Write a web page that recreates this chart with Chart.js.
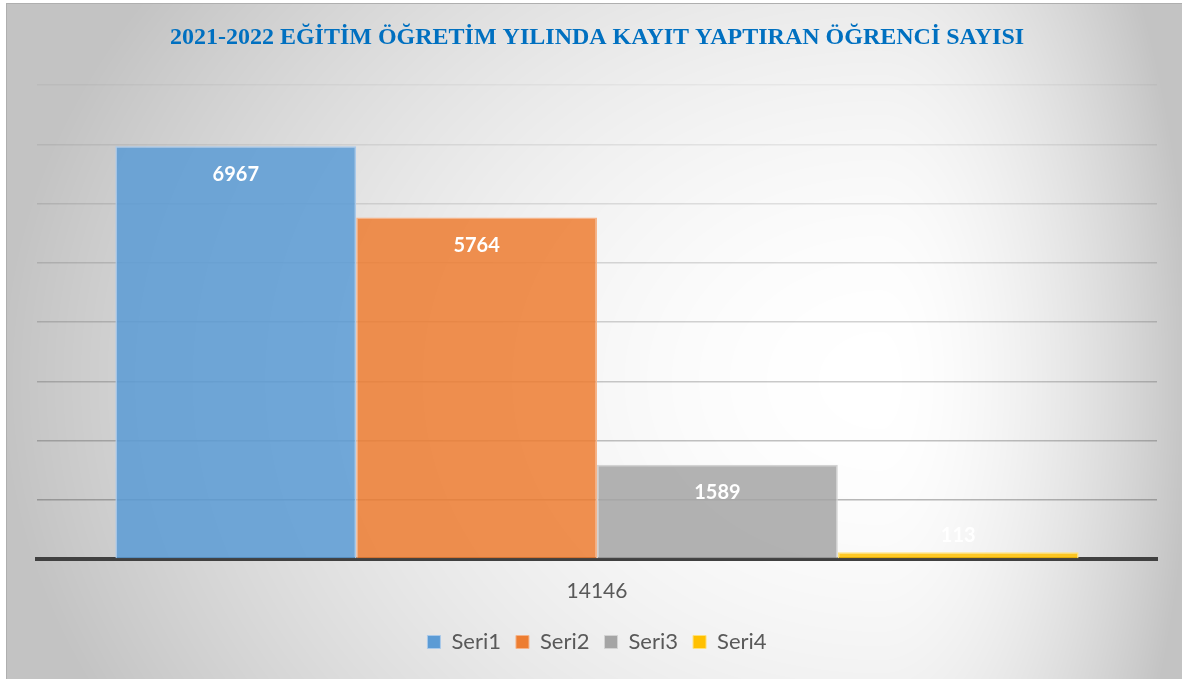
<!DOCTYPE html>
<html>
<head>
<meta charset="utf-8">
<title>2021-2022 Kayıt</title>
<script src="https://cdn.jsdelivr.net/npm/chart.js@4.4.0/dist/chart.umd.min.js"></script>
<style>
  html, body { margin: 0; padding: 0; background: #fff; }
  #wrap { position: relative; width: 1182px; height: 679px; overflow: hidden; }
  #bg, #chart { position: absolute; left: 0; top: 0; }
</style>
</head>
<body>
<div id="wrap">
  <canvas id="bg" width="1182" height="679"></canvas>
  <canvas id="chart" width="1182" height="679"></canvas>
</div>
<script>
// Data
const categories = ['14146'];
const seriesNames = ['Seri1', 'Seri2', 'Seri3', 'Seri4'];
const seri1 = [6967];
const seri2 = [5764];
const seri3 = [1589];
const seri4 = [113];
const yTicks = [0, 1000, 2000, 3000, 4000, 5000, 6000, 7000, 8000];

const titleText = '2021-2022 EĞİTİM ÖĞRETİM YILINDA KAYIT YAPTIRAN ÖĞRENCİ SAYISI';

// Office-like palette, slightly transparent
const fills = ['rgba(91,155,213,0.85)', 'rgba(237,125,49,0.85)', 'rgba(165,165,165,0.85)', 'rgba(255,192,0,0.85)'];
const edges = ['#a9c9ea', '#f5b48a', '#d3d3d3', '#ffe27a'];

/**
 * Paint the grey-to-white background frame
 */
function paintBackground() {
  const cv = document.getElementById('bg');
  const ctx = cv.getContext('2d');
  const W = cv.width, H = cv.height;
  const img = ctx.createImageData(W, H);
  const cx = 880, cy = 380;
  for (let y = 0; y < H; y++) {
    for (let x = 0; x < W; x++) {
      let v = 255;
      if (x >= 6 && y >= 3) {
        const dx = x - cx;
        const dy = y - cy;
        const rx = dx < 0 ? 880 : 310;
        let t = Math.sqrt((dx / rx) * (dx / rx) + (dy / 700) * (dy / 700));
        if (t > 1) t = 1;
        v = 255 - 60 * Math.pow(t, 1.8);
        if (y === 3 || x === 6) v = 175;
      }
      const i = (y * W + x) * 4;
      img.data[i] = v; img.data[i + 1] = v; img.data[i + 2] = v; img.data[i + 3] = 255;
    }
  }
  ctx.putImageData(img, 0, 0);
}
paintBackground();

// Value labels drawn over / above each bar
const valueLabels = {
  id: 'valueLabels',
  afterDatasetsDraw(chart) {
    const ctx = chart.ctx;
    ctx.save();
    ctx.font = 'bold 20px Lato, "Open Sans", sans-serif';
    ctx.fillStyle = '#ffffff';
    ctx.textAlign = 'center';
    ctx.textBaseline = 'middle';
    chart.data.datasets.forEach((ds, di) => {
      const meta = chart.getDatasetMeta(di);
      meta.data.forEach((bar, i) => {
        const h = bar.base - bar.y;
        const y = h > 45 ? bar.y + 28 : bar.y - 17;
        ctx.fillText(String(ds.data[i]), bar.x, y);
      });
    });
    ctx.restore();
  }
};

const allSeries = [seri1, seri2, seri3, seri4];

new Chart(document.getElementById('chart'), {
  type: 'bar',
  data: {
    labels: categories,
    datasets: allSeries.map((values, i) => ({
      label: seriesNames[i],
      data: values,
      backgroundColor: fills[i],
      borderColor: edges[i],
      borderWidth: 1.5,
      categoryPercentage: 0.86,
      barPercentage: 1.0,
    }))
  },
  options: {
    responsive: false,
    animation: false,
    layout: { padding: { left: 37, right: 25, top: 0, bottom: 16 } },
    plugins: {
      title: {
        display: true,
        text: titleText,
        color: '#0070c0',
        font: { family: '"Liberation Serif", "Times New Roman", serif', size: 24, weight: 'bold' },
        padding: { top: 23, bottom: 33.2 }
      },
      legend: {
        display: true,
        position: 'bottom',
        labels: {
          color: '#595959',
          font: { family: 'Lato, "Open Sans", sans-serif', size: 22 },
          boxWidth: 13,
          boxHeight: 13,
          padding: 15,
          generateLabels(chart) {
            return chart.data.datasets.map((ds, i) => ({
              text: ds.label,
              fillStyle: fills[i].replace('0.85', '1'),
              strokeStyle: edges[i],
              lineWidth: 1,
              datasetIndex: i,
              fontColor: '#595959'
            }));
          }
        }
      },
      tooltip: { enabled: false }
    },
    scales: {
      x: {
        grid: { display: false, drawTicks: false },
        border: { display: true, color: '#404040', width: 4 },
        ticks: {
          color: '#595959',
          font: { family: 'Lato, "Open Sans", sans-serif', size: 21 },
          padding: 20
        },
        afterFit(scale) { scale.height = 57; }
      },
      y: {
        min: yTicks[0],
        max: yTicks[yTicks.length - 1],
        afterBuildTicks(scale) { scale.ticks = yTicks.map(v => ({ value: v })); },
        ticks: { display: false },
        border: { display: false },
        grid: {
          drawTicks: false,
          lineWidth: 1.5,
          color(ctx) {
            const v = ctx.tick ? ctx.tick.value : 0;
            const a = 0.06 + (8000 - v) / 8000 * 0.36;
            return 'rgba(70,70,70,' + a.toFixed(3) + ')';
          }
        }
      }
    }
  },
  plugins: [valueLabels]
});
</script>
</body>
</html>
